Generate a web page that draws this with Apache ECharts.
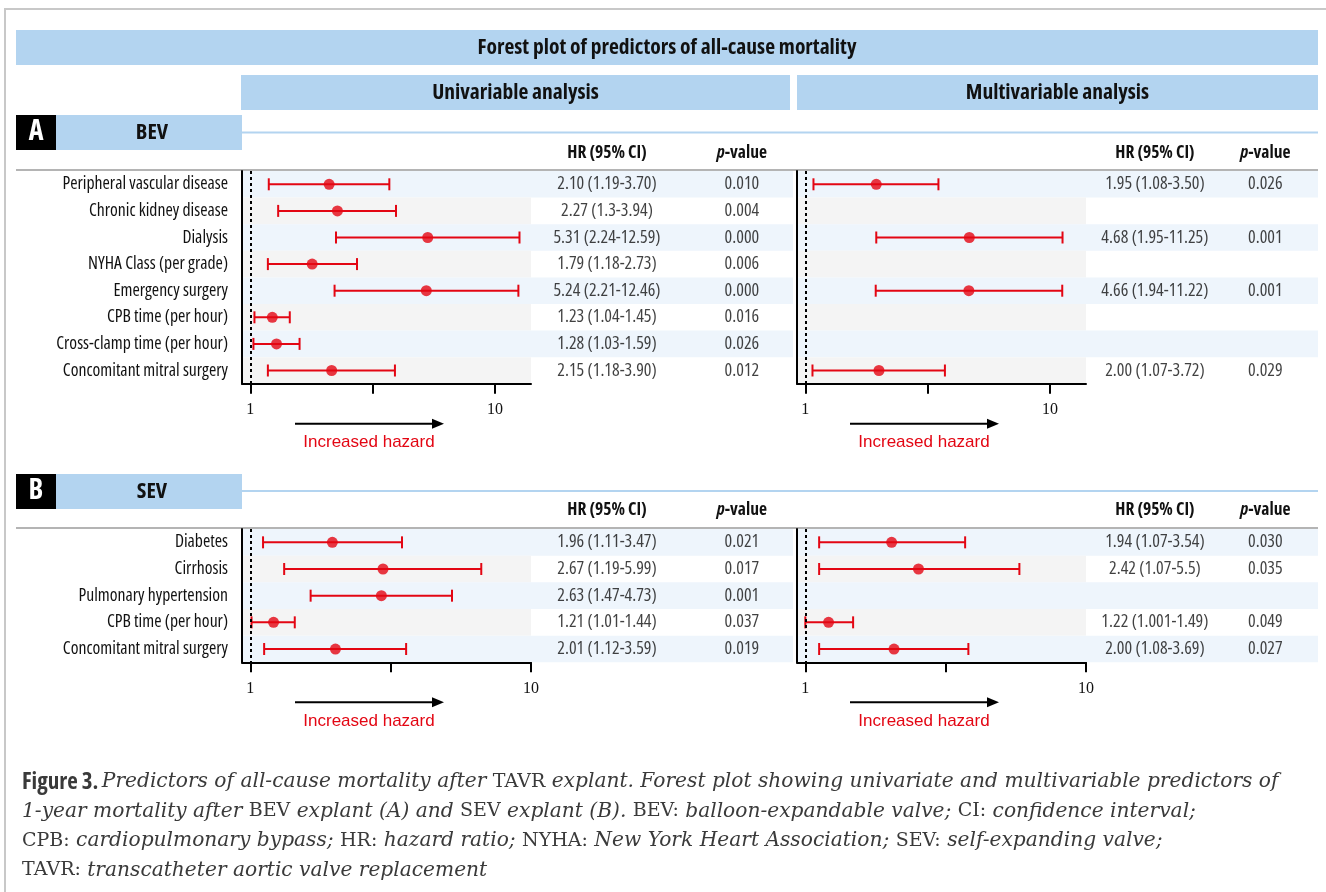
<!DOCTYPE html>
<html>
<head>
<meta charset="utf-8">
<title>Forest plot of predictors of all-cause mortality</title>
<script src="https://cdn.jsdelivr.net/npm/echarts@6/dist/echarts.min.js"></script>
<style>
  html, body { margin: 0; padding: 0; background: #fff; }
  #chart { width: 1326px; height: 892px; }
</style>
</head>
<body>
<div id="chart"></div>
<script>
// ---- data: BEV (panel A) ----
const bevLabels = ['Peripheral vascular disease', 'Chronic kidney disease', 'Dialysis', 'NYHA Class (per grade)',
  'Emergency surgery', 'CPB time (per hour)', 'Cross-clamp time (per hour)', 'Concomitant mitral surgery'];
const bevUniHr = [2.10, 2.27, 5.31, 1.79, 5.24, 1.23, 1.28, 2.15];
const bevUniLo = [1.19, 1.3, 2.24, 1.18, 2.21, 1.04, 1.03, 1.18];
const bevUniHi = [3.70, 3.94, 12.59, 2.73, 12.46, 1.45, 1.59, 3.90];
const bevUniCi = ['2.10 (1.19-3.70)', '2.27 (1.3-3.94)', '5.31 (2.24-12.59)', '1.79 (1.18-2.73)',
  '5.24 (2.21-12.46)', '1.23 (1.04-1.45)', '1.28 (1.03-1.59)', '2.15 (1.18-3.90)'];
const bevUniP = ['0.010', '0.004', '0.000', '0.006', '0.000', '0.016', '0.026', '0.012'];

const bevMultiHr = [1.95, null, 4.68, null, 4.66, null, null, 2.00];
const bevMultiLo = [1.08, null, 1.95, null, 1.94, null, null, 1.07];
const bevMultiHi = [3.50, null, 11.25, null, 11.22, null, null, 3.72];
const bevMultiCi = ['1.95 (1.08-3.50)', '', '4.68 (1.95-11.25)', '', '4.66 (1.94-11.22)', '', '', '2.00 (1.07-3.72)'];
const bevMultiP = ['0.026', '', '0.001', '', '0.001', '', '', '0.029'];

// ---- data: SEV (panel B) ----
const sevLabels = ['Diabetes', 'Cirrhosis', 'Pulmonary hypertension', 'CPB time (per hour)', 'Concomitant mitral surgery'];
// plotted positions as drawn in the figure
const sevUniHr = [1.96, 2.97, 2.93, 1.21, 2.01];
const sevUniLo = [1.11, 1.32, 1.64, 1.01, 1.12];
const sevUniHi = [3.47, 6.65, 5.23, 1.44, 3.59];
const sevUniCi = ['1.96 (1.11-3.47)', '2.67 (1.19-5.99)', '2.63 (1.47-4.73)', '1.21 (1.01-1.44)', '2.01 (1.12-3.59)'];
const sevUniP = ['0.021', '0.017', '0.001', '0.037', '0.019'];

const sevMultiHr = [2.03, 2.53, null, 1.21, 2.07];
const sevMultiLo = [1.12, 1.12, null, 1.0, 1.12];
const sevMultiHi = [3.71, 5.79, null, 1.48, 3.81];
const sevMultiCi = ['1.94 (1.07-3.54)', '2.42 (1.07-5.5)', '', '1.22 (1.001-1.49)', '2.00 (1.08-3.69)'];
const sevMultiP = ['0.030', '0.035', '', '0.049', '0.027'];

// axis ticks (hazard ratio, log scale)
const hrTicks = [1, 3.1623, 10];
const hrTickLabels = [1, 10];

// ---- styles ----
const RED = '#e30613';
const BAND_BLUE = '#eef5fc';
const BAND_GRAY = '#f4f4f4';
const HEAD_BLUE = '#b3d4f0';
const TXT = '#111';
// condensed width of Open Sans (passed through the font shorthand)
const COND = '"Open Sans", "Roboto Condensed", sans-serif';
const NARROW = 'condensed';
const SERIF = '"DejaVu Serif", "Liberation Serif", serif';
const SANS = '"Liberation Sans", Arial, sans-serif';

const grids = [], xAxes = [], yAxes = [], series = [], graphics = [];

function addPanel(p) {
  const n = p.labels.length;
  const h = p.rowH * n;
  const rows = p.labels.map((_, i) => i);

  // forest plot grid
  const gi = grids.length;
  grids.push({ left: p.left, top: p.top, width: 289, height: h });
  xAxes.push({
    gridIndex: gi, type: 'value',
    min: Math.log10(p.xMin), max: Math.log10(p.xMax),
    axisLine: { show: true, onZero: false, lineStyle: { color: '#000', width: 2 } },
    axisTick: { show: true, customValues: hrTicks.map(Math.log10), length: 10,
      lineStyle: { color: '#000', width: 2 } },
    axisLabel: { customValues: hrTickLabels.map(Math.log10), margin: 18,
      formatter: v => String(Math.round(Math.pow(10, v))),
      fontFamily: '"Liberation Serif", serif', fontSize: 16, color: '#111' },
    splitLine: { show: false }
  });
  yAxes.push({
    gridIndex: gi, type: 'category', inverse: true, data: p.labels,
    axisLine: { show: true, onZero: false, lineStyle: { color: '#000', width: 2 } },
    axisTick: { show: false },
    axisLabel: { show: p.showLabels, margin: 14, fontFamily: COND, fontStyle: NARROW, fontSize: 17.7, color: TXT },
    splitLine: { show: false },
    splitArea: { show: true, areaStyle: { color: [BAND_BLUE, BAND_GRAY] } }
  });
  const has = rows.filter(i => p.hr[i] != null);
  series.push({
    type: 'custom', xAxisIndex: gi, yAxisIndex: gi, z: 3,
    data: has.map(i => [Math.log10(p.lo[i]), Math.log10(p.hi[i]), i]),
    encode: { x: [0, 1], y: 2 },
    renderItem: (params, api) => {
      const a = api.coord([api.value(0), api.value(2)]);
      const b = api.coord([api.value(1), api.value(2)]);
      const st = { stroke: RED, lineWidth: 2 };
      return { type: 'group', children: [
        { type: 'line', shape: { x1: a[0], y1: a[1], x2: b[0], y2: b[1] }, style: st },
        { type: 'line', shape: { x1: a[0], y1: a[1] - 6, x2: a[0], y2: a[1] + 6 }, style: st },
        { type: 'line', shape: { x1: b[0], y1: b[1] - 6, x2: b[0], y2: b[1] + 6 }, style: st }
      ] };
    }
  });
  series.push({
    type: 'scatter', xAxisIndex: gi, yAxisIndex: gi, z: 4,
    symbolSize: 11, itemStyle: { color: RED },
    data: has.map(i => [Math.log10(p.hr[i]), i]),
    markLine: {
      silent: true, symbol: 'none', label: { show: false },
      lineStyle: { color: '#000', width: 2, type: [3, 3] },
      data: [{ xAxis: 0 }]
    }
  });

  // table grid (HR text, p-value)
  const ti = grids.length;
  grids.push({ left: p.left + 289, top: p.top, width: p.tableW, height: h });
  xAxes.push({ gridIndex: ti, type: 'value', min: 0, max: 1, show: false });
  yAxes.push({
    gridIndex: ti, type: 'category', inverse: true, data: p.labels,
    axisLine: { show: false }, axisTick: { show: false }, axisLabel: { show: false },
    splitLine: { show: false },
    splitArea: { show: true, areaStyle: { color: [BAND_BLUE, 'rgba(255,255,255,0)'] } }
  });
  const cells = [];
  rows.forEach(i => {
    if (p.ci[i]) cells.push([p.hrCol, i, p.ci[i]]);
    if (p.pv[i]) cells.push([p.pCol, i, p.pv[i]]);
  });
  series.push({
    type: 'scatter', xAxisIndex: ti, yAxisIndex: ti, symbolSize: 1,
    itemStyle: { color: 'rgba(0,0,0,0)' }, data: cells,
    label: { show: true, position: 'inside', formatter: d => d.data[2],
      fontFamily: COND, fontStyle: NARROW, fontSize: 18, color: TXT }
  });

  // column headers
  const tl = p.left + 289;
  graphics.push({ type: 'text', style: { text: 'HR (95% CI)', x: tl + p.hrCol * p.tableW, y: p.headY,
    align: 'center', verticalAlign: 'middle', font: NARROW + ' bold 17.5px ' + COND, fill: TXT } });
  graphics.push({ type: 'text', style: { text: '{pi|p}{pb|-value}', x: tl + p.pCol * p.tableW, y: p.headY,
    align: 'center', verticalAlign: 'middle', fill: TXT,
    rich: {
      pi: { fontFamily: COND, fontSize: 17.5, fontWeight: 'bold', fontStyle: 'italic ' + NARROW, fill: TXT },
      pb: { fontFamily: COND, fontSize: 17.5, fontWeight: 'bold', fontStyle: NARROW, fill: TXT }
    } } });

  // "Increased hazard" arrow
  const ay = p.top + h + 40;
  graphics.push({ type: 'line', shape: { x1: p.left + 53, y1: ay, x2: p.left + 192, y2: ay },
    style: { stroke: '#000', lineWidth: 2 } });
  graphics.push({ type: 'polygon', shape: { points: [[p.left + 190, ay - 5], [p.left + 202, ay], [p.left + 190, ay + 5]] },
    style: { fill: '#000' } });
  graphics.push({ type: 'text', style: { text: 'Increased hazard', x: p.left + 127, y: ay + 18.5,
    align: 'center', verticalAlign: 'middle', font: '17px ' + SANS, fill: RED } });
}

const BEV_TOP = 171, SEV_TOP = 529, ROW_H = 26.6, SEV_ROW_H = 26.67;
addPanel({ labels: bevLabels, hr: bevUniHr, lo: bevUniLo, hi: bevUniHi, ci: bevUniCi, pv: bevUniP,
  left: 242, top: BEV_TOP, rowH: ROW_H, xMin: 0.925, xMax: 14.03, showLabels: true,
  tableW: 262, hrCol: 0.29, pCol: 0.805, headY: 153 });
addPanel({ labels: bevLabels, hr: bevMultiHr, lo: bevMultiLo, hi: bevMultiHi, ci: bevMultiCi, pv: bevMultiP,
  left: 797, top: BEV_TOP, rowH: ROW_H, xMin: 0.925, xMax: 14.03, showLabels: false,
  tableW: 232, hrCol: 0.297, pCol: 0.773, headY: 153 });
addPanel({ labels: sevLabels, hr: sevUniHr, lo: sevUniLo, hi: sevUniHi, ci: sevUniCi, pv: sevUniP,
  left: 242, top: SEV_TOP, rowH: SEV_ROW_H, xMin: 0.934, xMax: 10, showLabels: true,
  tableW: 262, hrCol: 0.29, pCol: 0.805, headY: 510 });
addPanel({ labels: sevLabels, hr: sevMultiHr, lo: sevMultiLo, hi: sevMultiHi, ci: sevMultiCi, pv: sevMultiP,
  left: 797, top: SEV_TOP, rowH: SEV_ROW_H, xMin: 0.934, xMax: 10, showLabels: false,
  tableW: 232, hrCol: 0.297, pCol: 0.773, headY: 510 });

// ---- frame, header bars, section boxes ----
function bar(x, y, w, h, fill, text, font, color, tx) {
  graphics.push({ type: 'rect', shape: { x: x, y: y, width: w, height: h }, style: { fill: fill }, z: -1 });
  if (text) graphics.push({ type: 'text', style: { text: text, x: tx != null ? tx : x + w / 2, y: y + h / 2,
    align: 'center', verticalAlign: 'middle', font: font, fill: color } });
}
graphics.push({ type: 'polyline', shape: { points: [[5, 892], [5, 9], [1326, 9]] },
  style: { stroke: '#c8c8c8', lineWidth: 2, fill: null } });
const HEAD_FONT = NARROW + ' bold 21.5px ' + COND;
bar(16, 30, 1302, 35, HEAD_BLUE, 'Forest plot of predictors of all-cause mortality', HEAD_FONT, TXT);
bar(241, 75, 549, 35, HEAD_BLUE, 'Univariable analysis', HEAD_FONT, TXT);
bar(797, 75, 521, 35, HEAD_BLUE, 'Multivariable analysis', HEAD_FONT, TXT);

[['A', 'BEV', 115, 132.5, 170], ['B', 'SEV', 474, 491, 528]].forEach(s => {
  bar(16, s[2], 40, 35, '#000', s[0], NARROW + ' bold 28px ' + COND, '#fff');
  bar(56, s[2], 186, 35, HEAD_BLUE, s[1], NARROW + ' bold 22px ' + COND, TXT, 152);
  graphics.push({ type: 'line', shape: { x1: 242, y1: s[3], x2: 1318, y2: s[3] },
    style: { stroke: HEAD_BLUE, lineWidth: 2 } });
  graphics.push({ type: 'line', shape: { x1: 16, y1: s[4], x2: 1318, y2: s[4] },
    style: { stroke: '#b4b4b4', lineWidth: 2 } });
});

// ---- caption ----
const captionLines = [
  '{b|Figure 3.} {i|Predictors of all-cause mortality after }{u|TAVR}{i| explant. Forest plot showing univariate and multivariable predictors of}',
  '{i|1-year mortality after }{u|BEV}{i| explant (A) and }{u|SEV}{i| explant (B). }{u|BEV:}{i| balloon-expandable valve; }{u|CI:}{i| confidence interval;}',
  '{u|CPB:}{i| cardiopulmonary bypass; }{u|HR:}{i| hazard ratio; }{u|NYHA:}{i| New York Heart Association; }{u|SEV:}{i| self-expanding valve;}',
  '{u|TAVR:}{i| transcatheter aortic valve replacement}'
];
const CAP = '#3a3a3a';
captionLines.forEach((line, k) => {
  graphics.push({ type: 'text', style: { text: line, x: 22, y: 782 + k * 29.5, verticalAlign: 'middle', fill: CAP,
    rich: {
      b: { fontFamily: COND, fontStyle: 'semi-condensed', fontWeight: 'bold', fontSize: 23, fill: CAP },
      i: { fontFamily: SERIF, fontStyle: 'italic', fontSize: 20.2, fill: CAP },
      u: { fontFamily: SERIF, fontSize: 19, fill: CAP }
    } } });
});

const chart = echarts.init(document.getElementById('chart'));
chart.setOption({
  animation: false,
  backgroundColor: '#fff',
  grid: grids,
  xAxis: xAxes,
  yAxis: yAxes,
  series: series,
  graphic: graphics
});
</script>
</body>
</html>
